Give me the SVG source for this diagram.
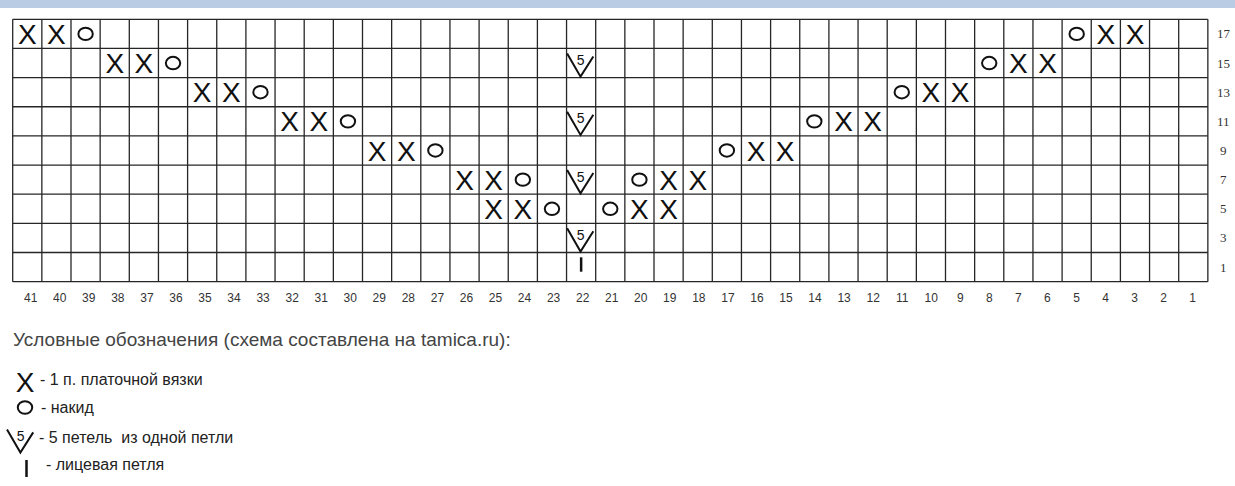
<svg xmlns="http://www.w3.org/2000/svg" xmlns:xlink="http://www.w3.org/1999/xlink" width="1235" height="486" viewBox="0 0 1235 486">
<style>
.grid line{stroke:#262626;stroke-width:1.3}
.x{font-family:"Liberation Sans",Arial,sans-serif;font-size:28px;fill:#111;text-anchor:middle}
.o{fill:none;stroke:#111;stroke-width:2}
.v{fill:none;stroke:#111;stroke-width:2}
.n5{font-family:"Liberation Sans",Arial,sans-serif;font-size:14px;fill:#111;text-anchor:middle}
.col{font-family:"Liberation Sans",Arial,sans-serif;font-size:12px;fill:#333;text-anchor:middle}
.row{font-family:"Liberation Serif","Times New Roman",serif;font-size:13px;fill:#333}
.title{font-family:"Liberation Sans",Arial,sans-serif;font-size:19px;fill:#444}
.leg{font-family:"Liberation Sans",Arial,sans-serif;font-size:16px;fill:#222;white-space:pre}
</style>
<defs>
<ellipse id="o" cx="0" cy="0" rx="7.2" ry="6.2" class="o"/>
<g id="v"><path d="M-14,-9.6 L-0.6,13.6 L12.2,-6.6" class="v"/><text class="n5" x="-0.4" y="2">5</text></g>
</defs>
<rect x="0" y="0" width="1235" height="8" fill="#b9cce4"/>
<g id="grid" class="grid">
<line x1="12.7" y1="19.3" x2="1207.85" y2="19.3"/>
<line x1="12.7" y1="48.45" x2="1207.85" y2="48.45"/>
<line x1="12.7" y1="77.6" x2="1207.85" y2="77.6"/>
<line x1="12.7" y1="106.75" x2="1207.85" y2="106.75"/>
<line x1="12.7" y1="135.9" x2="1207.85" y2="135.9"/>
<line x1="12.7" y1="165.05" x2="1207.85" y2="165.05"/>
<line x1="12.7" y1="194.2" x2="1207.85" y2="194.2"/>
<line x1="12.7" y1="223.35" x2="1207.85" y2="223.35"/>
<line x1="12.7" y1="252.5" x2="1207.85" y2="252.5"/>
<line x1="12.7" y1="281.65" x2="1207.85" y2="281.65"/>
<line x1="12.7" y1="19.3" x2="12.7" y2="281.65"/>
<line x1="41.85" y1="19.3" x2="41.85" y2="281.65"/>
<line x1="71" y1="19.3" x2="71" y2="281.65"/>
<line x1="100.15" y1="19.3" x2="100.15" y2="281.65"/>
<line x1="129.3" y1="19.3" x2="129.3" y2="281.65"/>
<line x1="158.45" y1="19.3" x2="158.45" y2="281.65"/>
<line x1="187.6" y1="19.3" x2="187.6" y2="281.65"/>
<line x1="216.75" y1="19.3" x2="216.75" y2="281.65"/>
<line x1="245.9" y1="19.3" x2="245.9" y2="281.65"/>
<line x1="275.05" y1="19.3" x2="275.05" y2="281.65"/>
<line x1="304.2" y1="19.3" x2="304.2" y2="281.65"/>
<line x1="333.35" y1="19.3" x2="333.35" y2="281.65"/>
<line x1="362.5" y1="19.3" x2="362.5" y2="281.65"/>
<line x1="391.65" y1="19.3" x2="391.65" y2="281.65"/>
<line x1="420.8" y1="19.3" x2="420.8" y2="281.65"/>
<line x1="449.95" y1="19.3" x2="449.95" y2="281.65"/>
<line x1="479.1" y1="19.3" x2="479.1" y2="281.65"/>
<line x1="508.25" y1="19.3" x2="508.25" y2="281.65"/>
<line x1="537.4" y1="19.3" x2="537.4" y2="281.65"/>
<line x1="566.55" y1="19.3" x2="566.55" y2="281.65"/>
<line x1="595.7" y1="19.3" x2="595.7" y2="281.65"/>
<line x1="624.85" y1="19.3" x2="624.85" y2="281.65"/>
<line x1="654" y1="19.3" x2="654" y2="281.65"/>
<line x1="683.15" y1="19.3" x2="683.15" y2="281.65"/>
<line x1="712.3" y1="19.3" x2="712.3" y2="281.65"/>
<line x1="741.45" y1="19.3" x2="741.45" y2="281.65"/>
<line x1="770.6" y1="19.3" x2="770.6" y2="281.65"/>
<line x1="799.75" y1="19.3" x2="799.75" y2="281.65"/>
<line x1="828.9" y1="19.3" x2="828.9" y2="281.65"/>
<line x1="858.05" y1="19.3" x2="858.05" y2="281.65"/>
<line x1="887.2" y1="19.3" x2="887.2" y2="281.65"/>
<line x1="916.35" y1="19.3" x2="916.35" y2="281.65"/>
<line x1="945.5" y1="19.3" x2="945.5" y2="281.65"/>
<line x1="974.65" y1="19.3" x2="974.65" y2="281.65"/>
<line x1="1003.8" y1="19.3" x2="1003.8" y2="281.65"/>
<line x1="1032.95" y1="19.3" x2="1032.95" y2="281.65"/>
<line x1="1062.1" y1="19.3" x2="1062.1" y2="281.65"/>
<line x1="1091.25" y1="19.3" x2="1091.25" y2="281.65"/>
<line x1="1120.4" y1="19.3" x2="1120.4" y2="281.65"/>
<line x1="1149.55" y1="19.3" x2="1149.55" y2="281.65"/>
<line x1="1178.7" y1="19.3" x2="1178.7" y2="281.65"/>
<line x1="1207.85" y1="19.3" x2="1207.85" y2="281.65"/>
</g>
<g id="row17">
<text class="x" x="27.28" y="43.9">X</text>
<text class="x" x="56.43" y="43.9">X</text>
<use xlink:href="#o" x="85.58" y="33.88"/>
<use xlink:href="#o" x="1076.68" y="33.88"/>
<text class="x" x="1105.83" y="43.9">X</text>
<text class="x" x="1134.98" y="43.9">X</text>
</g>
<g id="row15">
<text class="x" x="114.73" y="73.05">X</text>
<text class="x" x="143.88" y="73.05">X</text>
<use xlink:href="#o" x="173.03" y="63.03"/>
<use xlink:href="#v" x="581.13" y="63.03"/>
<use xlink:href="#o" x="989.23" y="63.03"/>
<text class="x" x="1018.38" y="73.05">X</text>
<text class="x" x="1047.53" y="73.05">X</text>
</g>
<g id="row13">
<text class="x" x="202.18" y="102.2">X</text>
<text class="x" x="231.33" y="102.2">X</text>
<use xlink:href="#o" x="260.48" y="92.18"/>
<use xlink:href="#o" x="901.78" y="92.18"/>
<text class="x" x="930.93" y="102.2">X</text>
<text class="x" x="960.08" y="102.2">X</text>
</g>
<g id="row11">
<text class="x" x="289.63" y="131.35">X</text>
<text class="x" x="318.78" y="131.35">X</text>
<use xlink:href="#o" x="347.93" y="121.33"/>
<use xlink:href="#v" x="581.13" y="121.33"/>
<use xlink:href="#o" x="814.33" y="121.33"/>
<text class="x" x="843.48" y="131.35">X</text>
<text class="x" x="872.63" y="131.35">X</text>
</g>
<g id="row9">
<text class="x" x="377.08" y="160.5">X</text>
<text class="x" x="406.23" y="160.5">X</text>
<use xlink:href="#o" x="435.38" y="150.48"/>
<use xlink:href="#o" x="726.88" y="150.48"/>
<text class="x" x="756.03" y="160.5">X</text>
<text class="x" x="785.18" y="160.5">X</text>
</g>
<g id="row7">
<text class="x" x="464.53" y="189.65">X</text>
<text class="x" x="493.68" y="189.65">X</text>
<use xlink:href="#o" x="522.83" y="179.63"/>
<use xlink:href="#v" x="581.13" y="179.63"/>
<use xlink:href="#o" x="639.43" y="179.63"/>
<text class="x" x="668.58" y="189.65">X</text>
<text class="x" x="697.73" y="189.65">X</text>
</g>
<g id="row5">
<text class="x" x="493.68" y="218.8">X</text>
<text class="x" x="522.83" y="218.8">X</text>
<use xlink:href="#o" x="551.98" y="208.78"/>
<use xlink:href="#o" x="610.28" y="208.78"/>
<text class="x" x="639.43" y="218.8">X</text>
<text class="x" x="668.58" y="218.8">X</text>
</g>
<g id="row3">
<use xlink:href="#v" x="581.13" y="237.93"/>
</g>
<g id="row1">
<line x1="581.13" y1="257.3" x2="581.13" y2="271.7" stroke="#111" stroke-width="2.5"/>
</g>
<g id="rownums">
<text class="row" x="1217" y="38.4">17</text>
<text class="row" x="1217" y="67.5">15</text>
<text class="row" x="1217" y="96.7">13</text>
<text class="row" x="1217" y="125.8">11</text>
<text class="row" x="1220" y="155">9</text>
<text class="row" x="1220" y="184.1">7</text>
<text class="row" x="1220" y="213.3">5</text>
<text class="row" x="1220" y="242.4">3</text>
<text class="row" x="1220" y="271.6">1</text>
</g>
<g id="colnums">
<text class="col" x="30.7" y="301.5">41</text>
<text class="col" x="59.75" y="301.5">40</text>
<text class="col" x="88.8" y="301.5">39</text>
<text class="col" x="117.85" y="301.5">38</text>
<text class="col" x="146.9" y="301.5">37</text>
<text class="col" x="175.95" y="301.5">36</text>
<text class="col" x="205" y="301.5">35</text>
<text class="col" x="234.05" y="301.5">34</text>
<text class="col" x="263.1" y="301.5">33</text>
<text class="col" x="292.15" y="301.5">32</text>
<text class="col" x="321.2" y="301.5">31</text>
<text class="col" x="350.25" y="301.5">30</text>
<text class="col" x="379.3" y="301.5">29</text>
<text class="col" x="408.35" y="301.5">28</text>
<text class="col" x="437.4" y="301.5">27</text>
<text class="col" x="466.45" y="301.5">26</text>
<text class="col" x="495.5" y="301.5">25</text>
<text class="col" x="524.55" y="301.5">24</text>
<text class="col" x="553.6" y="301.5">23</text>
<text class="col" x="582.65" y="301.5">22</text>
<text class="col" x="611.7" y="301.5">21</text>
<text class="col" x="640.75" y="301.5">20</text>
<text class="col" x="669.8" y="301.5">19</text>
<text class="col" x="698.85" y="301.5">18</text>
<text class="col" x="727.9" y="301.5">17</text>
<text class="col" x="756.95" y="301.5">16</text>
<text class="col" x="786" y="301.5">15</text>
<text class="col" x="815.05" y="301.5">14</text>
<text class="col" x="844.1" y="301.5">13</text>
<text class="col" x="873.15" y="301.5">12</text>
<text class="col" x="902.2" y="301.5">11</text>
<text class="col" x="931.25" y="301.5">10</text>
<text class="col" x="960.3" y="301.5">9</text>
<text class="col" x="989.35" y="301.5">8</text>
<text class="col" x="1018.4" y="301.5">7</text>
<text class="col" x="1047.45" y="301.5">6</text>
<text class="col" x="1076.5" y="301.5">5</text>
<text class="col" x="1105.55" y="301.5">4</text>
<text class="col" x="1134.6" y="301.5">3</text>
<text class="col" x="1163.65" y="301.5">2</text>
<text class="col" x="1192.7" y="301.5">1</text>
</g>
<g id="legend">
<text class="title" x="13" y="346">Условные обозначения (схема составлена на tamica.ru):</text>
<g id="leg-x"><text class="x" x="25" y="391.5">X</text><text class="leg" x="40" y="385">- 1 п. платочной вязки</text></g>
<g id="leg-o"><use xlink:href="#o" x="25" y="407.5"/><text class="leg" x="41" y="412.5" xml:space="preserve">- накид</text></g>
<g id="leg-v"><use xlink:href="#v" x="21" y="439"/><text class="leg" x="39" y="442.5" xml:space="preserve">- 5 петель  из одной петли</text></g>
<g id="leg-i"><line x1="26.5" y1="460" x2="26.5" y2="477" stroke="#111" stroke-width="2.5"/><text class="leg" x="46" y="469.5">- лицевая петля</text></g>
</g>
</svg>
